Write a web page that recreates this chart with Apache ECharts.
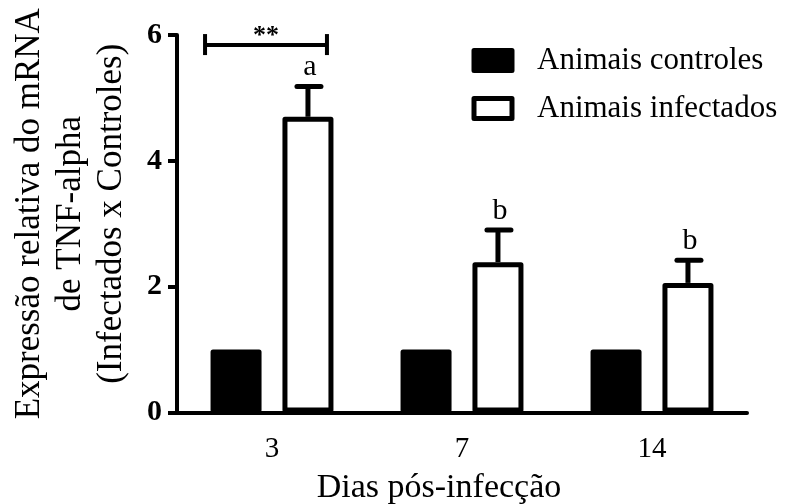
<!DOCTYPE html>
<html>
<head>
<meta charset="utf-8">
<script src="https://cdn.jsdelivr.net/npm/echarts@6/dist/echarts.min.js"></script>
<style>
  html, body { margin: 0; padding: 0; background: #fff; }
  #chart { width: 785px; height: 504px; }
</style>
</head>
<body>
<div id="chart"></div>
<script>
// Days after infection
const days = ['3', '7', '14'];
// Relative TNF-alpha mRNA expression
const controls = [1, 1, 1];
const infected = [4.70, 2.39, 2.06];
// Upper error (SEM) of infected animals
const infectedErr = [0.48, 0.51, 0.36];
// Letters for significance between days
const sigLetters = ['a', 'b', 'b'];
// Bracket over day 3 (controls vs infected)
const bracketLevel = [5.84];
const bracketText = ['**'];

const FONT = '"Liberation Serif", "Times New Roman", serif';
const BAR_W = 51;
const BORDER = 5;
const GAP_RATIO = 0.41;
const seriesOffset = (BAR_W + BAR_W * GAP_RATIO) / 2;

const chart = echarts.init(document.getElementById('chart'), null, { renderer: 'canvas' });

const option = {
  animation: false,
  backgroundColor: '#fff',
  textStyle: { fontFamily: FONT, color: '#000' },
  grid: { left: 177, right: 38, top: 35, bottom: 91.5, containLabel: false, outerBoundsMode: 'none' },
  legend: {
    orient: 'vertical',
    left: 471.5,
    top: 45,
    padding: 0,
    itemWidth: 38,
    itemHeight: 20,
    itemGap: 17,
    icon: 'rect',
    itemStyle: { borderWidth: 5, borderColor: '#000' },
    data: ['Animais controles', 'Animais infectados'],
    textStyle: { fontFamily: FONT, fontSize: 31, lineHeight: 31, color: '#000', padding: [0, 0, 0, 20] }
  },
  xAxis: {
    type: 'category',
    data: days,
    name: 'Dias pós-infecção',
    nameLocation: 'middle',
    nameGap: 59,
    nameTextStyle: { fontFamily: FONT, fontSize: 34, color: '#000', padding: [0, 46, 0, 0] },
    axisLine: { lineStyle: { color: '#000', width: 4 } },
    axisTick: { alignWithLabel: true, length: 9, lineStyle: { color: '#000', width: 4 } },
    axisLabel: { fontFamily: FONT, fontSize: 29, color: '#000', margin: 22 }
  },
  yAxis: {
    type: 'value',
    min: 0,
    max: 6,
    interval: 2,
    name: 'Expressão relativa do mRNA\nde TNF-alpha\n(Infectados x Controles)',
    nameLocation: 'middle',
    nameRotate: 90,
    nameGap: 45,
    nameTextStyle: { fontFamily: FONT, fontSize: 35, lineHeight: 41, color: '#000', align: 'center', padding: [0, 0, 0, 20] },
    axisLine: { show: true, lineStyle: { color: '#000', width: 4 } },
    axisTick: { show: true, length: 9, lineStyle: { color: '#000', width: 4 } },
    splitLine: { show: false },
    axisLabel: { fontFamily: FONT, fontSize: 30, fontWeight: 'bold', color: '#000', margin: 15 }
  },
  series: [
    {
      name: 'Animais controles',
      type: 'bar',
      data: controls,
      barWidth: BAR_W,
      barGap: (GAP_RATIO * 100) + '%',
      itemStyle: { color: '#000', borderColor: '#000', borderWidth: BORDER, borderJoin: 'round' },
      z: 2
    },
    {
      name: 'Animais infectados',
      type: 'bar',
      data: infected,
      barWidth: BAR_W,
      barGap: (GAP_RATIO * 100) + '%',
      itemStyle: { color: '#fff', borderColor: '#000', borderWidth: BORDER, borderJoin: 'round' },
      z: 2
    },
    {
      // error bars with significance letters above infected bars
      type: 'custom',
      data: days.map((d, i) => [i, infected[i], infected[i] + infectedErr[i], sigLetters[i]]),
      z: 3,
      silent: true,
      renderItem: function (params, api) {
        const x = api.coord([api.value(0), 0])[0] + seriesOffset;
        const yBar = api.coord([api.value(0), api.value(1)])[1];
        const yTop = api.coord([api.value(0), api.value(2)])[1];
        const letter = sigLetters[params.dataIndex];
        return {
          type: 'group',
          children: [
            { type: 'line', shape: { x1: x, y1: yBar, x2: x, y2: yTop },
              style: { stroke: '#000', lineWidth: 5 } },
            { type: 'line', shape: { x1: x - 11, y1: yTop, x2: x + 13, y2: yTop },
              style: { stroke: '#000', lineWidth: 5, lineCap: 'round' } },
            { type: 'text', x: x + 2, y: yTop - 4,
              style: { text: letter, fontFamily: FONT, fontSize: 30, fill: '#000',
                       align: 'center', verticalAlign: 'bottom' } }
          ]
        };
      }
    },
    {
      // ** bracket between control and infected on day 3
      type: 'custom',
      data: [[0, bracketLevel[0]]],
      z: 3,
      silent: true,
      renderItem: function (params, api) {
        const c = api.coord([api.value(0), api.value(1)]);
        const x1 = c[0] - seriesOffset - 31;
        const x2 = c[0] + seriesOffset + 19;
        const y = c[1];
        return {
          type: 'group',
          children: [
            { type: 'line', shape: { x1: x1, y1: y, x2: x2, y2: y }, style: { stroke: '#000', lineWidth: 4 } },
            { type: 'line', shape: { x1: x1, y1: y - 11, x2: x1, y2: y + 10 }, style: { stroke: '#000', lineWidth: 4 } },
            { type: 'line', shape: { x1: x2, y1: y - 11, x2: x2, y2: y + 10 }, style: { stroke: '#000', lineWidth: 4 } },
            { type: 'text', x: (x1 + x2) / 2, y: y + 4,
              style: { text: bracketText[0], fontFamily: FONT, fontSize: 26, fontWeight: 'bold', fill: '#000',
                       align: 'center', verticalAlign: 'bottom' } }
          ]
        };
      }
    }
  ]
};

chart.setOption(option);
</script>
</body>
</html>
